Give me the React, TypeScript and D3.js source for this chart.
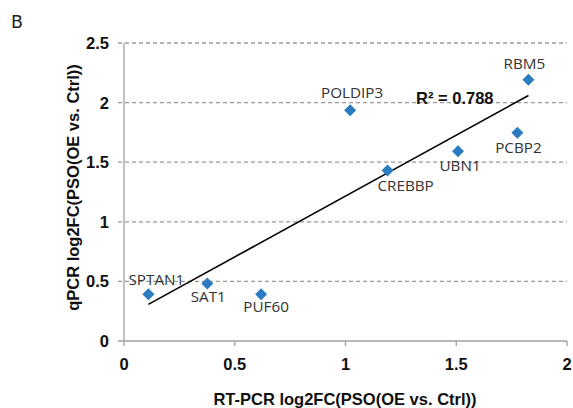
import React, { useEffect, useRef } from "react";
import * as d3 from "d3";

// Gene names and their fold changes (RT-PCR on x, qPCR on y)
const genes = ["SPTAN1", "SAT1", "PUF60", "POLDIP3", "CREBBP", "UBN1", "PCBP2", "RBM5"];
const rtpcr = [0.11, 0.376, 0.619, 1.021, 1.19, 1.508, 1.776, 1.826];
const qpcr = [0.393, 0.482, 0.393, 1.936, 1.431, 1.591, 1.748, 2.191];

// Label placement relative to each marker [dx, dy]
const labelOffsets: [number, number][] = [
  [8, -9], [1, 18], [5, 18], [2, -12], [18, 21], [2, 20], [1, 20], [-4, -11],
];

const xTicks = [0, 0.5, 1, 1.5, 2];
const yTicks = [0, 0.5, 1, 1.5, 2, 2.5];
const rSquaredLabel = "R² = 0.788";

const W = 573;
const H = 408;

type Sel = d3.Selection<SVGSVGElement | null, unknown, null, undefined>;

function label(
  svg: Sel, x: number, y: number, str: string,
  opts: { size: number; sx?: number; anchor?: string; family: string; weight?: string; fill: string }
) {
  svg.append("text")
    .attr("transform", `translate(${x},${y}) scale(${opts.sx ?? 1},1)`)
    .attr("text-anchor", opts.anchor ?? "start")
    .attr("font-family", opts.family)
    .attr("font-weight", opts.weight ?? "normal")
    .attr("font-size", opts.size)
    .attr("fill", opts.fill)
    .text(str);
}

export default function App() {
  const ref = useRef<SVGSVGElement>(null);

  useEffect(() => {
    const svg = d3.select(ref.current) as Sel;
    svg.selectAll("*").remove();

    const x = d3.scaleLinear().domain([0, 2]).range([124, 567]);
    const y = d3.scaleLinear().domain([0, 2.5]).range([341, 43]);

    const bold = "'Liberation Sans', Arial, sans-serif";
    const sans = "'Open Sans', 'Noto Sans', sans-serif";
    const axisGrey = "#a0a0a0";

    // panel letter
    svg.append("text").attr("x", 11).attr("y", 28)
      .attr("font-family", "'DejaVu Sans', 'Open Sans', sans-serif").attr("font-size", 17.5)
      .attr("fill", "#222").text("B");

    // dashed gridlines
    svg.append("g").selectAll("line").data(yTicks.filter((t) => t > 0)).join("line")
      .attr("x1", 118).attr("x2", x(2))
      .attr("y1", (d) => y(d)).attr("y2", (d) => y(d))
      .attr("stroke", "#9a9a9a").attr("stroke-width", 1.3).attr("stroke-dasharray", "4,3");

    // axis lines
    svg.append("line").attr("x1", x(0)).attr("x2", x(0)).attr("y1", y(2.5)).attr("y2", y(0))
      .attr("stroke", axisGrey).attr("stroke-width", 1.3);
    svg.append("line").attr("x1", 118).attr("x2", x(2)).attr("y1", y(0)).attr("y2", y(0))
      .attr("stroke", axisGrey).attr("stroke-width", 1.3);

    // x ticks
    svg.append("g").selectAll("line").data(xTicks).join("line")
      .attr("x1", (d) => x(d)).attr("x2", (d) => x(d))
      .attr("y1", y(0)).attr("y2", y(0) + 5)
      .attr("stroke", axisGrey).attr("stroke-width", 1.3);

    const boldOpts = { size: 16.5, family: bold, weight: "bold", fill: "#111" };
    xTicks.forEach((t) => label(svg, x(t), 369.5, String(t), { ...boldOpts, anchor: "middle" }));
    yTicks.forEach((t) => label(svg, 109, y(t) + 6, String(t), { ...boldOpts, anchor: "end" }));

    // axis titles
    label(svg, 345, 405, "RT-PCR log2FC(PSO(OE vs. Ctrl))", { ...boldOpts, anchor: "middle" });
    svg.append("text").attr("transform", `translate(79,187.5) rotate(-90)`)
      .attr("text-anchor", "middle")
      .attr("font-family", bold).attr("font-weight", "bold").attr("font-size", 16.5)
      .attr("fill", "#111").text("qPCR log2FC(PSO(OE vs. Ctrl))");

    // least-squares trendline over the data range
    const mx = d3.mean(rtpcr)!;
    const my = d3.mean(qpcr)!;
    const sxy = d3.sum(rtpcr, (v, i) => (v - mx) * (qpcr[i] - my));
    const sxx = d3.sum(rtpcr, (v) => (v - mx) ** 2);
    const slope = sxy / sxx;
    const icpt = my - slope * mx;
    const [x0, x1] = d3.extent(rtpcr) as [number, number];
    svg.append("line")
      .attr("x1", x(x0)).attr("y1", y(icpt + slope * x0))
      .attr("x2", x(x1)).attr("y2", y(icpt + slope * x1))
      .attr("stroke", "#000").attr("stroke-width", 1.6);

    // diamond markers
    const pts = genes.map((g, i) => ({ g, x: rtpcr[i], y: qpcr[i], o: labelOffsets[i] }));
    const diamond = d3.symbol().type(d3.symbolSquare).size(72);
    svg.append("g").selectAll("path").data(pts).join("path")
      .attr("d", diamond as any)
      .attr("transform", (d) => `translate(${x(d.x)},${y(d.y)}) rotate(45)`)
      .attr("fill", "#2a7bbf");

    pts.forEach((p) =>
      label(svg, x(p.x) + p.o[0], y(p.y) + p.o[1], p.g,
        { size: 14, sx: 1.09, anchor: "middle", family: sans, fill: "#333" })
    );

    label(svg, 416, 103.5, rSquaredLabel, { ...boldOpts });
  }, []);

  return (
    <svg ref={ref} width={W} height={H}
      style={{ position: "absolute", left: 0, top: 0, background: "#fff" }} />
  );
}
